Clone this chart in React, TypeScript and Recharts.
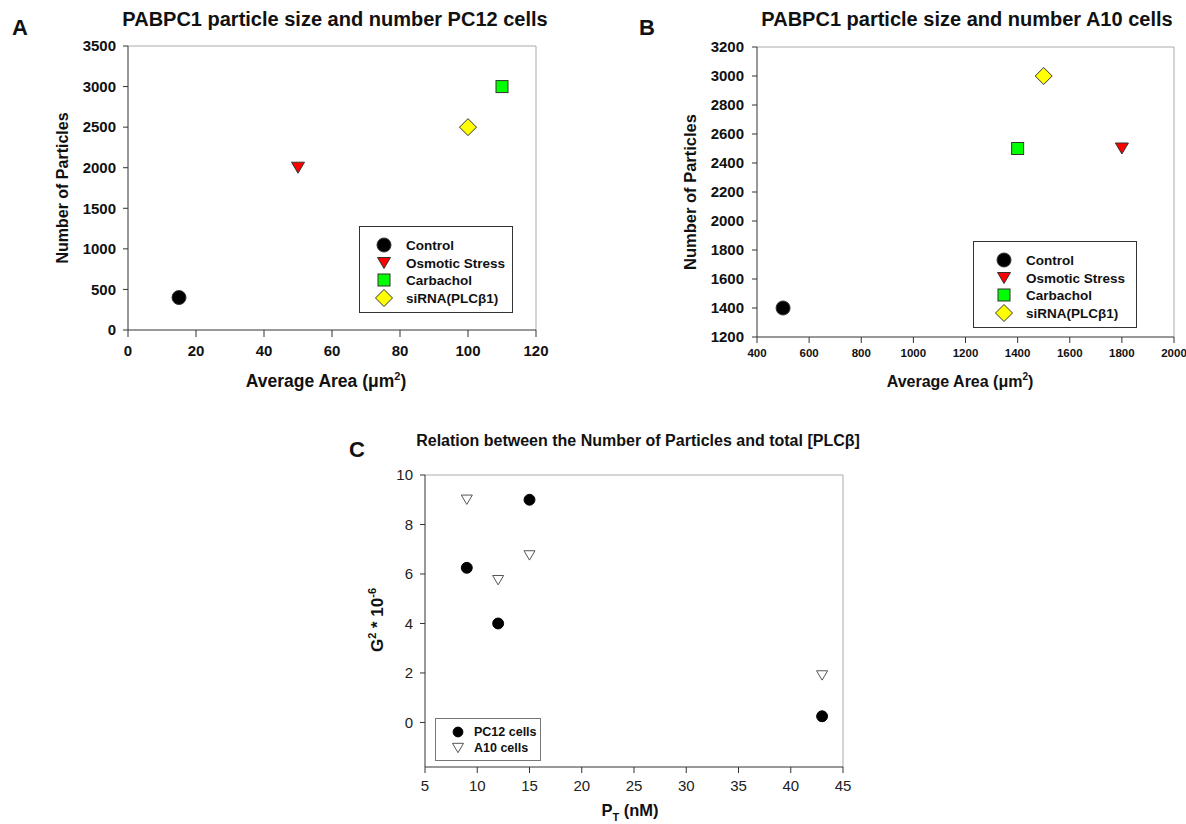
import React from 'react';
import { ScatterChart, Scatter, XAxis, YAxis, ReferenceLine } from 'recharts';

// treatments shared by panels A and B
const treatments = ['Control', 'Osmotic Stress', 'Carbachol', 'siRNA(PLCβ1)'];
const markerKinds = ['circle', 'downTriangle', 'square', 'diamond'];
const markerFills = ['#000000', '#ff0000', '#00ff00', '#ffff00'];

// panel A: PC12 cells
const areaPC12 = [15, 50, 110, 100];
const countPC12 = [400, 2000, 3000, 2500];
const ticksXA = [0, 20, 40, 60, 80, 100, 120];
const ticksYA = [0, 500, 1000, 1500, 2000, 2500, 3000, 3500];

// panel B: A10 cells
const areaA10 = [500, 1800, 1400, 1500];
const countA10 = [1400, 2500, 2500, 3000];
const ticksXB = [400, 600, 800, 1000, 1200, 1400, 1600, 1800, 2000];
const ticksYB = [1200, 1400, 1600, 1800, 2000, 2200, 2400, 2600, 2800, 3000, 3200];

// panel C: G^2 vs total PLCβ
const ptNM = [9, 12, 15, 43];
const g2PC12 = [6.25, 4.0, 9.0, 0.25];
const g2A10 = [9.0, 5.75, 6.75, 1.9];
const ticksXC = [5, 10, 15, 20, 25, 30, 35, 40, 45];
const ticksYC = [0, 2, 4, 6, 8, 10];

const FONT = '"Liberation Sans", Arial, sans-serif';

function drawMarker(kind: string, cx: number, cy: number, fill: string, stroke: string, k = 1) {
  if (kind === 'circle') return <circle cx={cx} cy={cy} r={7 * k} fill={fill} stroke={stroke} />;
  if (kind === 'downTriangle') {
    const w = 13 * k, h = 11 * k;
    return <polygon points={`${cx - w / 2},${cy - h / 2} ${cx + w / 2},${cy - h / 2} ${cx},${cy + h / 2}`} fill={fill} stroke={stroke} />;
  }
  if (kind === 'square') return <rect x={cx - 6 * k} y={cy - 6 * k} width={12 * k} height={12 * k} fill={fill} stroke={stroke} />;
  const d = 8.5 * k;
  return <polygon points={`${cx},${cy - d} ${cx + d},${cy} ${cx},${cy + d} ${cx - d},${cy}`} fill={fill} stroke={stroke} />;
}

const shapeFor = (kind: string, fill: string, stroke: string, k = 1) => (p: any) =>
  drawMarker(kind, p.cx, p.cy, fill, stroke, k);

function LegendBox({ left, top, width, height, rows, markerX, textX, rowY, fontSize, border }: any) {
  return (
    <div style={{ position: 'absolute', left, top, width, height, border: `1px solid ${border}`, boxSizing: 'border-box', background: '#fff' }}>
      {rows.map((r: any, i: number) => (
        <div key={r.label} style={{ position: 'absolute', left: 0, top: rowY[i] - 9, height: 18, width: '100%' }}>
          <svg width={24} height={18} style={{ position: 'absolute', left: markerX - 12, top: 0 }}>
            {drawMarker(r.kind, 12, 9, r.fill, r.stroke, r.k ?? 1)}
          </svg>
          <span style={{ position: 'absolute', left: textX, top: 9, transform: 'translateY(-50%)', fontWeight: 700, fontSize, whiteSpace: 'nowrap', color: '#111' }}>{r.label}</span>
        </div>
      ))}
    </div>
  );
}

const txt = (left: number, top: number, size: number, content: React.ReactNode, rotate = false, weight = 700) => (
  <div style={{
    position: 'absolute', left, top, fontSize: size, fontWeight: weight, whiteSpace: 'nowrap', color: '#111',
    transform: `translate(-50%, -50%)${rotate ? ' rotate(-90deg)' : ''}`,
  }}>{content}</div>
);

const tickBold = (size: number) => ({ fontSize: size, fontWeight: 700, fill: '#111', fontFamily: FONT });
const tickPlain = { fontSize: 15, fill: '#222', fontFamily: FONT };

export default function App() {
  const rowsAB = treatments.map((t, i) => ({ label: t, kind: markerKinds[i], fill: markerFills[i], stroke: '#333' }));
  return (
    <div style={{ position: 'absolute', left: 0, top: 0, width: 1186, height: 824, background: '#fff', fontFamily: FONT, overflow: 'hidden' }}>
      {/* Panel A */}
      <div style={{ position: 'absolute', left: 0, top: 0 }}>
        <ScatterChart width={600} height={400} margin={{ top: 46, right: 64, left: 68, bottom: 40 }}>
          <XAxis type="number" dataKey="x" domain={[0, 120]} ticks={ticksXA} tickSize={7} tickMargin={8}
            stroke="#333" tick={tickBold(15)} height={30} />
          <YAxis type="number" dataKey="y" domain={[0, 3500]} ticks={ticksYA} tickSize={5} tickMargin={7}
            stroke="#333" tick={tickBold(15)} width={60} />
          <ReferenceLine y={3500} stroke="#aaa" />
          <ReferenceLine x={120} stroke="#aaa" />
          {treatments.map((t, i) => (
            <Scatter key={t} name={t} data={[{ x: areaPC12[i], y: countPC12[i] }]} isAnimationActive={false}
              shape={shapeFor(markerKinds[i], markerFills[i], '#333')} />
          ))}
        </ScatterChart>
      </div>

      {/* Panel B */}
      <div style={{ position: 'absolute', left: 600, top: 0 }}>
        <ScatterChart width={586} height={400} margin={{ top: 47, right: 12, left: 97, bottom: 33 }}>
          <XAxis type="number" dataKey="x" domain={[400, 2000]} ticks={ticksXB} tickSize={6} tickMargin={6}
            stroke="#333" tick={tickBold(11.5)} height={30} interval={0} />
          <YAxis type="number" dataKey="y" domain={[1200, 3200]} ticks={ticksYB} tickSize={5} tickMargin={8}
            stroke="#333" tick={tickBold(15)} width={60} interval={0} />
          <ReferenceLine y={3200} stroke="#aaa" />
          <ReferenceLine x={2000} stroke="#aaa" />
          {treatments.map((t, i) => (
            <Scatter key={t} name={t} data={[{ x: areaA10[i], y: countA10[i] }]} isAnimationActive={false}
              shape={shapeFor(markerKinds[i], markerFills[i], '#333')} />
          ))}
        </ScatterChart>
      </div>

      {/* Panel C */}
      <div style={{ position: 'absolute', left: 340, top: 400 }}>
        <ScatterChart width={520} height={424} margin={{ top: 75, right: 17, left: 35, bottom: 27 }}>
          <XAxis type="number" dataKey="x" domain={[5, 45]} ticks={ticksXC} tickSize={6} tickMargin={7}
            stroke="#333" tick={tickPlain} height={30} interval={0} />
          <YAxis type="number" dataKey="y" domain={[-1.8, 10]} ticks={ticksYC} tickSize={5} tickMargin={7} allowDataOverflow
            stroke="#333" tick={tickPlain} width={50} interval={0} />
          <ReferenceLine y={10} stroke="#aaa" />
          <ReferenceLine x={45} stroke="#aaa" />
          <Scatter name="PC12 cells" data={ptNM.map((x, i) => ({ x, y: g2PC12[i] }))} isAnimationActive={false}
            shape={shapeFor('circle', '#000', '#000', 0.78)} />
          <Scatter name="A10 cells" data={ptNM.map((x, i) => ({ x, y: g2A10[i] }))} isAnimationActive={false}
            shape={shapeFor('downTriangle', '#fff', '#555', 0.85)} />
        </ScatterChart>
      </div>

      {/* titles and letters */}
      {txt(20, 28, 22, 'A')}
      {txt(335, 19, 20, 'PABPC1 particle size and number PC12 cells')}
      {txt(647, 28, 22, 'B')}
      {txt(967, 19, 20, 'PABPC1 particle size and number A10 cells')}
      {txt(357, 450, 22, 'C')}
      {txt(638, 441, 16, <>Relation between the Number of Particles and total [PLCβ]</>)}

      {/* axis titles */}
      {txt(63, 188, 16, 'Number of Particles', true)}
      {txt(326, 381, 17.5, <>Average Area (μm<sup style={{ fontSize: 11 }}>2</sup>)</>)}
      {txt(690, 192, 16.5, 'Number of Particles', true)}
      {txt(960, 381, 16, <>Average Area (μm<sup style={{ fontSize: 10 }}>2</sup>)</>)}
      {txt(377, 620, 17, <>G<sup style={{ fontSize: 11 }}>2</sup> * 10<sup style={{ fontSize: 11 }}>-6</sup></>, true)}
      {txt(630, 812, 16.5, <>P<sub style={{ fontSize: 11 }}>T</sub> (nM)</>)}

      {/* legends */}
      <LegendBox left={359} top={226} width={154} height={87} rows={rowsAB} markerX={24} textX={46}
        rowY={[18, 36, 53, 71]} fontSize={13.5} border="#333" />
      <LegendBox left={973} top={241} width={164} height={87} rows={rowsAB} markerX={30} textX={52}
        rowY={[18, 36, 53, 71]} fontSize={13.5} border="#333" />
      <LegendBox left={435} top={718} width={106} height={43}
        rows={[
          { label: 'PC12 cells', kind: 'circle', fill: '#000', stroke: '#000', k: 0.7 },
          { label: 'A10 cells', kind: 'downTriangle', fill: '#fff', stroke: '#555', k: 0.85 },
        ]}
        markerX={22} textX={38} rowY={[13, 29]} fontSize={12.5} border="#777" />
    </div>
  );
}
